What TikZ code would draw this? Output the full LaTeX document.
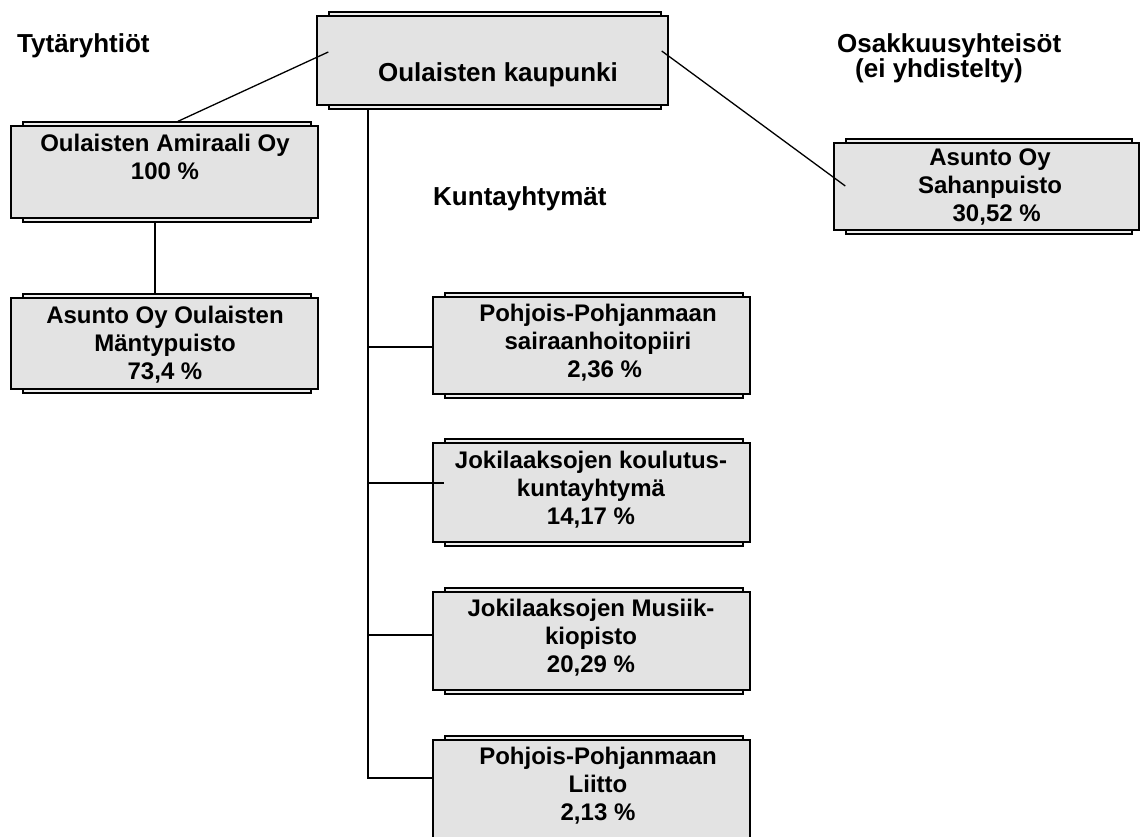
\documentclass[tikz,border=0pt]{standalone}
\usepackage{fontspec}
\setmainfont{Liberation Sans}
\usetikzlibrary{fit,calc}
\definecolor{boxgray}{RGB}{227,227,227}
\newcommand\orgbox[5]{%
  \node[frm, fit={(#2+12,#3-4) (#4-7,#5+4)}] (#1F) {};
  \node[innerbox, fit={(#2,#3) (#4,#5)}] (#1B) {};}
\begin{document}
\begin{tikzpicture}[x=1pt,y=-1pt,
  frm/.style={draw=black, line width=1.4pt, fill=boxgray!60, inner sep=0pt},
  innerbox/.style={draw=black, line width=2.6pt, fill=boxgray, inner sep=0pt},
  txt/.style={font=\fontsize{24}{28}\selectfont\bfseries, align=center, inner sep=0pt},
  lbl/.style={font=\fontsize{26}{25}\selectfont\bfseries, align=left, inner sep=0pt},
  conn/.style={draw=black, line width=1.3pt}]
\clip (0,0) rectangle (1142,837);
\fill[white] (0,0) rectangle (1142,837);

% boxes
\orgbox{main}{317}{16}{668}{105}
\orgbox{am}{11}{126}{318}{218}
\orgbox{mant}{11}{298}{318}{389}
\orgbox{sah}{834}{143}{1139}{230}
\orgbox{ka}{433}{297}{750}{394}
\orgbox{kb}{433}{443}{750}{542}
\orgbox{kc}{433}{592}{750}{690}
\orgbox{kd}{433}{740}{750}{850}

% texts
\node[txt, font=\fontsize{26}{30}\selectfont\bfseries] (tMain) at (498,75) {Oulaisten kaupunki};
\node[txt] (tAm) at (165,157) {Oulaisten Amiraali Oy\\100 \%};
\node[txt] (tMant) at (165,345) {Asunto Oy Oulaisten\\Mäntypuisto\\73,4 \%};
\node[txt] (tSah) at (990,187) {Asunto Oy\\Sahanpuisto\\\ \ 30,52 \%};
\node[txt] (tKa) at (598,343) {Pohjois-Pohjanmaan\\sairaanhoitopiiri\\\ \ 2,36 \%};
\node[txt] (tKb) at (591,490) {Jokilaaksojen koulutus-\\kuntayhtymä\\14,17 \%};
\node[txt] (tKc) at (591,638) {Jokilaaksojen Musiik-\\kiopisto\\20,29 \%};
\node[txt] (tKd) at (598,786) {Pohjois-Pohjanmaan\\Liitto\\2,13 \%};

% group labels
\node[lbl, anchor=base west] (lblTyt) at (17,53) {Tytäryhtiöt};
\node[lbl, anchor=base west] (lblOsa) at (837,78) {Osakkuusyhteisöt\\\hspace*{18pt}(ei yhdistelty)};
\node[lbl, anchor=base west] (lblKun) at (433,205) {Kuntayhtymät};

% connectors
\draw[conn] (mainF.west |- 0,52) -- (amF.north -| 178,0);
\draw[conn] (mainF.east |- 0,51) -- (sahF.west |- 0,186);
\draw[conn] (amF.south -| 155,0) -- (mantF.north -| 155,0);
\coordinate (j1) at (368,347);
\coordinate (j2) at (368,483);
\coordinate (j3) at (368,635);
\coordinate (j4) at (368,778);
\draw[conn] (mainF.south -| j4) -- (j4) -- (kdB.west |- j4);
\draw[conn] (j1) -- (kaB.west |- j1);
\draw[conn] (j2) -- (kbF.west |- j2);
\draw[conn] (j3) -- (kcB.west |- j3);
\end{tikzpicture}
\end{document}
